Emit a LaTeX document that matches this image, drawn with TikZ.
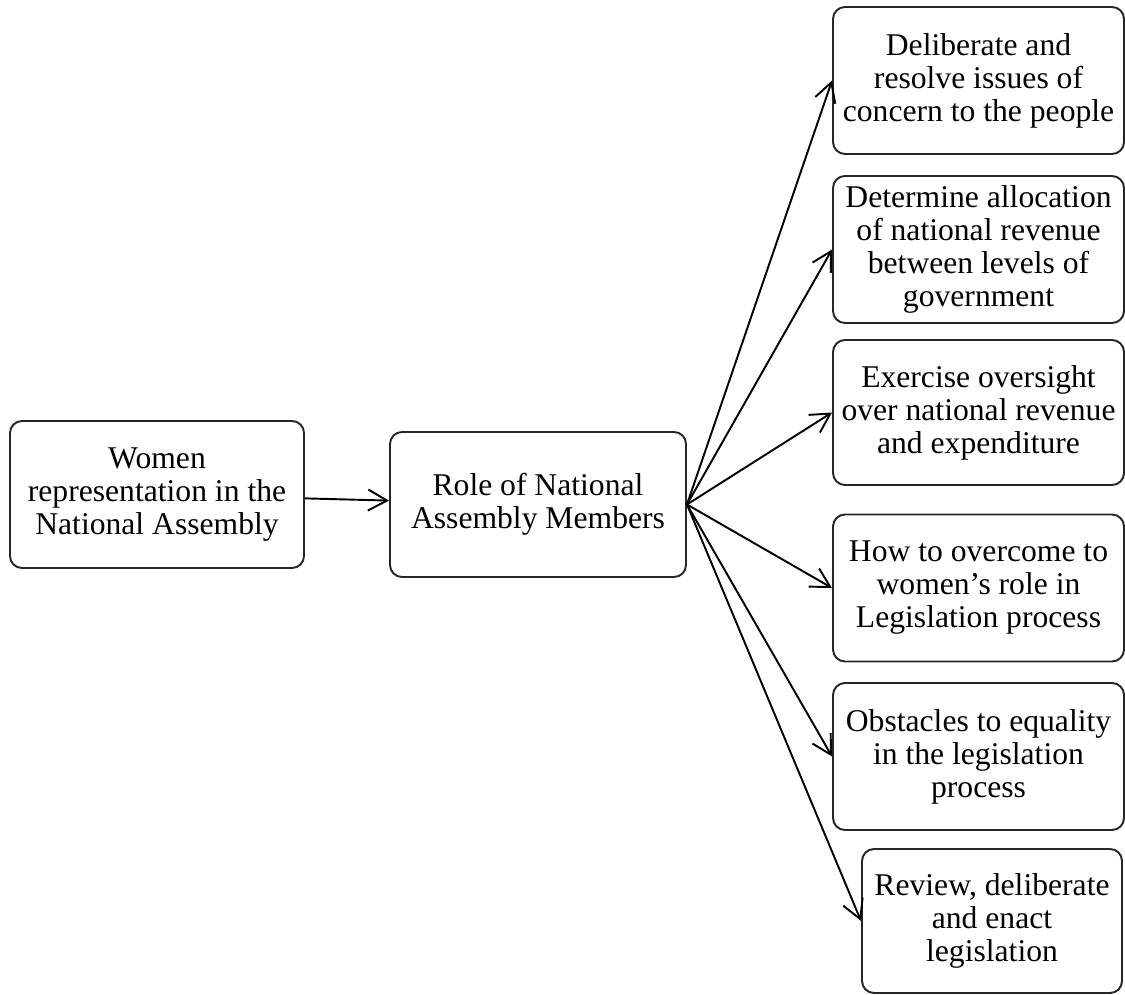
\documentclass[tikz,border=0pt]{standalone}
\usepackage{fontspec}
\setmainfont{Liberation Serif}
\usepackage{tikz}
\usetikzlibrary{positioning, arrows.meta}

\begin{document}
\begin{tikzpicture}[>={Straight Barb[length=3.8mm, width=4.2mm]},
    box/.style={draw=black!85, line width=1.1pt, rounded corners=2.4mm, align=center,
        inner sep=1mm, minimum width=5.82cm, minimum height=2.94cm,
        font=\fontsize{18}{18.8}\selectfont},
    link/.style={->, line width=1.1pt}] % one style for all boxes, one for all arrows

    \useasboundingbox (0,0) rectangle (22.5,19.88);

    % 1. Define Nodes
    \node[box, minimum width=5.88cm] (women) at (3.14,9.99) {Women\\representation in the\\National Assembly};
    \node[box, minimum width=5.92cm, minimum height=2.90cm] (role) at (10.76,9.79) {Role of National\\Assembly Members};

    % right column of roles
    \node[box] (resolve) at (19.57,18.27) {Deliberate and\\resolve issues of\\concern to the people};
    \node[box] (revenue) at (19.57,14.89) {Determine allocation\\of national revenue\\between levels of\\government};
    \node[box, minimum height=2.90cm] (oversight) at (19.57,11.63) {Exercise oversight\\over national revenue\\and expenditure};
    \node[box] (overcome) at (19.57,8.12) {How to overcome to\\women's role in\\Legislation process};
    \node[box] (obstacles) at (19.57,4.75) {Obstacles to equality\\in the legislation\\process};
    % last box sits a bit to the right and is narrower
    \node[box, minimum width=5.2cm, minimum height=2.88cm] (review) at (19.84,1.46) {Review, deliberate\\and enact\\legislation};

    % 2. Draw Arrows
    \draw[link] (women) -- (role);

    % fan out from the role box
    \draw[link] (role.east) -- (resolve.west);
    \draw[link] (role.east) -- (revenue.west);
    \draw[link] (role.east) -- (oversight.west);
    \draw[link] (role.east) -- (overcome.west);
    \draw[link] (role.east) -- (obstacles.west);
    \draw[link] (role.east) -- (review.west);

\end{tikzpicture}
\end{document}
